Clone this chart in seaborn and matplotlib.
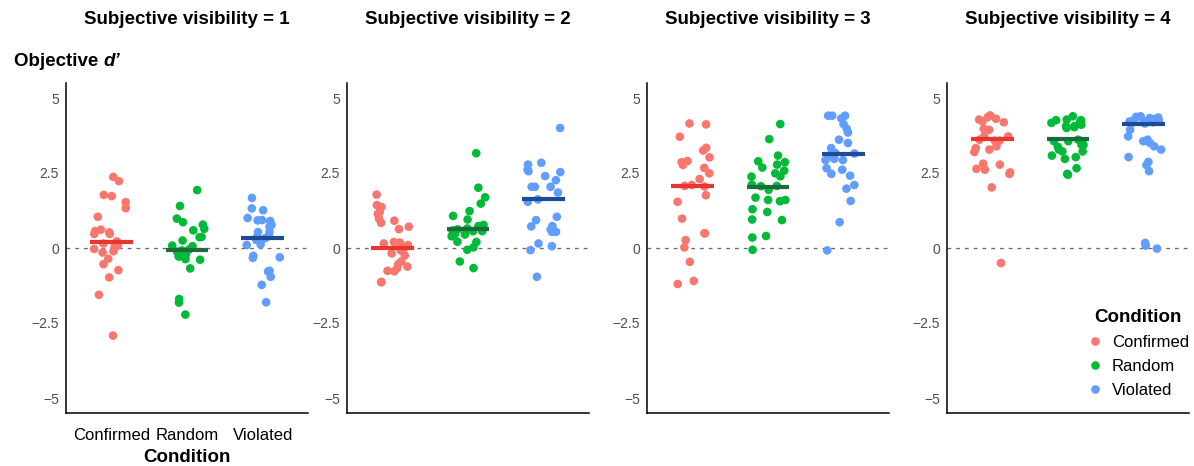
import numpy as np
import pandas as pd
import seaborn as sns
import matplotlib.pyplot as plt

conditions = ["Confirmed", "Random", "Violated"]
visibility = [1, 2, 3, 4]
palette = {"Confirmed": "#F8766D", "Random": "#00BA38", "Violated": "#619CFF"}
median_colors = {"Confirmed": "#E6362E", "Random": "#1E6A3A", "Violated": "#1C4C94"}

# objective d' per participant
vis1_confirmed = [2.37, 2.23, 1.77, 1.73, 1.53, 1.33, 1.04, 0.61, 0.56, 0.52, 0.47, 0.47, 0.22,
                  0.15, 0.08, 0.04, -0.03, -0.11, -0.15, -0.36, -0.54, -0.74, -0.98, -1.56, -2.92]
vis1_random = [1.93, 1.40, 0.98, 0.86, 0.78, 0.64, 0.59, 0.37, 0.36, 0.25, 0.08, 0.06, -0.05,
               -0.08, -0.12, -0.17, -0.22, -0.28, -0.28, -0.37, -0.39, -0.68, -1.70, -1.82, -2.22]
vis1_violated = [1.67, 1.32, 1.26, 1.00, 0.93, 0.92, 0.90, 0.77, 0.71, 0.54, 0.53, 0.40, 0.36,
                 0.33, 0.27, 0.12, 0.10, -0.26, -0.31, -0.33, -0.76, -0.78, -0.96, -1.23, -1.81]

vis2_confirmed = [1.78, 1.43, 1.37, 1.20, 1.14, 0.98, 0.91, 0.84, 0.71, 0.63, 0.20, 0.18, 0.15,
                  0.10, 0.02, -0.08, -0.18, -0.25, -0.45, -0.54, -0.62, -0.67, -0.76, -0.78, -1.13, -1.14]
vis2_random = [3.16, 2.01, 1.69, 1.48, 1.23, 1.07, 0.95, 0.77, 0.73, 0.65, 0.62, 0.62, 0.60,
               0.58, 0.56, 0.56, 0.47, 0.45, 0.39, 0.21, 0.20, 0.02, -0.06, -0.45, -0.67]
vis2_violated = [4.00, 2.84, 2.78, 2.61, 2.56, 2.53, 2.40, 2.26, 2.04, 2.04, 2.04, 1.85, 1.62,
                 1.54, 1.04, 0.93, 0.73, 0.72, 0.62, 0.54, 0.54, 0.15, 0.06, -0.07, -0.96]

vis3_confirmed = [4.15, 4.12, 3.71, 3.34, 3.25, 3.02, 2.90, 2.86, 2.77, 2.67, 2.49, 2.30, 2.10,
                  2.07, 2.05, 1.76, 1.54, 0.98, 0.49, 0.49, 0.26, 0.02, -0.46, -1.10, -1.20]
vis3_random = [4.13, 3.63, 3.08, 2.89, 2.86, 2.78, 2.68, 2.58, 2.49, 2.39, 2.38, 2.11, 2.07,
               2.06, 1.94, 1.68, 1.60, 1.60, 1.56, 1.29, 1.20, 0.95, 0.93, 0.40, 0.35, -0.06]
vis3_violated = [4.41, 4.41, 4.41, 4.32, 4.13, 3.98, 3.85, 3.61, 3.50, 3.33, 3.16, 3.15, 3.12,
                 3.00, 2.97, 2.93, 2.93, 2.66, 2.61, 2.47, 2.41, 2.10, 1.98, 1.57, 0.86, -0.08]

vis4_confirmed = [4.42, 4.36, 4.31, 4.28, 4.22, 4.19, 3.97, 3.94, 3.72, 3.72, 3.61, 3.58, 3.58,
                  3.39, 3.33, 3.28, 3.20, 2.81, 2.78, 2.64, 2.61, 2.52, 2.47, 2.02, -0.50]
vis4_random = [4.39, 4.28, 4.26, 4.26, 4.19, 4.17, 4.11, 4.06, 4.06, 4.03, 4.00, 3.61, 3.56,
               3.56, 3.44, 3.44, 3.37, 3.28, 3.22, 3.22, 3.08, 3.03, 2.97, 2.66, 2.47, 2.44]
vis4_violated = [4.39, 4.37, 4.35, 4.33, 4.30, 4.30, 4.28, 4.25, 4.22, 4.22, 4.22, 4.22, 4.19,
                 4.17, 4.15, 3.94, 3.72, 3.61, 3.56, 3.50, 3.39, 3.28, 3.03, 2.87, 2.76, 2.56,
                 0.17, 0.08, -0.02]

# medians drawn as horizontal bars (Confirmed, Random, Violated)
medians = {
    1: [0.20, -0.06, 0.34],
    2: [0.00, 0.62, 1.63],
    3: [2.06, 2.03, 3.14],
    4: [3.63, 3.63, 4.14],
}

raw = {
    1: [vis1_confirmed, vis1_random, vis1_violated],
    2: [vis2_confirmed, vis2_random, vis2_violated],
    3: [vis3_confirmed, vis3_random, vis3_violated],
    4: [vis4_confirmed, vis4_random, vis4_violated],
}

rows = []
for v in visibility:
    for cond, vals in zip(conditions, raw[v]):
        for d in vals:
            rows.append({"Visibility": v, "Condition": cond, "dprime": d})
df = pd.DataFrame(rows)

sns.set_style("white")
plt.rcParams["font.family"] = ["Liberation Sans", "DejaVu Sans"]
plt.rcParams["text.color"] = "black"
plt.rcParams["axes.labelcolor"] = "black"

W, H = 1194, 466
fig = plt.figure(figsize=(W / 100, H / 100), dpi=100)

panel_left = [66, 347, 647, 947]
panel_w = 242
ax_top, ax_bot = 83, 413

np.random.seed(3)
axes = []
for i, v in enumerate(visibility):
    ax = fig.add_axes([panel_left[i] / W, 1 - ax_bot / H, panel_w / W, (ax_bot - ax_top) / H])
    axes.append(ax)
    sub = df[df["Visibility"] == v]
    ax.axhline(0, color="#666666", lw=0.9, ls=(0, (3, 4)), zorder=1)
    sns.stripplot(data=sub, x="Condition", y="dprime", hue="Condition", order=conditions,
                  hue_order=conditions, palette=palette, jitter=0.24, size=6.2,
                  linewidth=0, ax=ax, legend=(v == 4), zorder=2)
    for j, cond in enumerate(conditions):
        ax.hlines(medians[v][j], j - 0.28, j + 0.28, color=median_colors[cond], lw=3, zorder=3)

    ax.set_xlim(-0.6, 2.6)
    ax.set_ylim(-5.5, 5.5)
    ax.set_yticks([-5, -2.5, 0, 2.5, 5])
    ax.set_yticklabels(["\u22125", "\u22122.5", "0", "2.5", "5"])
    ax.tick_params(axis="y", length=3, width=0.8, color="#333333", labelsize=10,
                   labelcolor="#4D4D4D", pad=2)
    ax.set_ylabel("")
    sns.despine(ax=ax)
    for s in ["left", "bottom"]:
        ax.spines[s].set_color("black")
        ax.spines[s].set_linewidth(1.1)
    if i == 0:
        ax.tick_params(axis="x", length=3, width=0.8, color="#333333", labelsize=12,
                       labelcolor="black", pad=8)
        ax.set_xlabel("Condition", fontsize=13.5, fontweight="bold", labelpad=4)
    else:
        ax.set_xticks([])
        ax.set_xlabel("")
    ax.text(0.5, 1 + (ax_top - 20) / (ax_bot - ax_top), f"Subjective visibility = {v}",
            transform=ax.transAxes, ha="center", va="center", fontsize=13.5, fontweight="bold")

ax4 = axes[3]
sns.move_legend(ax4, "lower right", bbox_to_anchor=(1.0, 0.045), frameon=False,
                title="Condition", fontsize=12, title_fontsize=13.5, borderpad=0,
                borderaxespad=0, handlelength=1.0, handletextpad=0.5, labelspacing=0.55)
ax4.get_legend().get_title().set_fontweight("bold")

# y-axis title with italic d'
t1 = fig.text(14 / W, 1 - 62 / H, "Objective ", fontsize=13.5, fontweight="bold",
              ha="left", va="center")
fig.canvas.draw()
bb = t1.get_window_extent()
fig.text(bb.x1 / W, 1 - 62 / H, "d\u2019", fontsize=13.5, fontweight="bold",
         style="italic", ha="left", va="center")

fig.savefig("out.png", dpi=100)
